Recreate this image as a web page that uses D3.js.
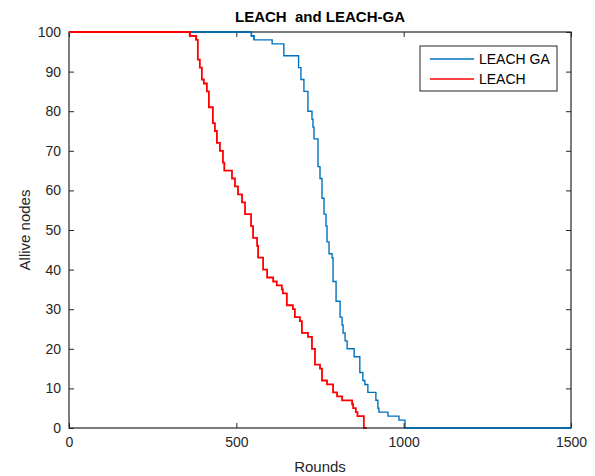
<!DOCTYPE html>
<html><head><meta charset="utf-8">
<script src="https://cdn.jsdelivr.net/npm/d3@7"></script>
<style>body{margin:0;background:#fff;} svg{display:block;font-family:"Liberation Sans",Arial,sans-serif;}</style>
</head><body><svg id="c" width="595" height="476"></svg>
<script>
const title = "LEACH  and LEACH-GA";
const xLabel = "Rounds";
const yLabel = "Allive nodes";
const xTicks = [0, 500, 1000, 1500];
const yTicks = [0,10,20,30,40,50,60,70,80,90,100];
const seriesNames = ["LEACH GA", "LEACH"];
// step points: [round, alive nodes] (value holds until next point)
const leachGA = [[0,100],[545,99],[553,98],[607,97],[642,94],[686,91],[693,88],[702,85],[714,80],[726,78],[729,76],[732,73],[744,66],[750,63],[756,58],[762,54],[768,51],[771,47],[777,44],[786,43],[789,37],[798,32],[810,28],[816,26],[819,24],[825,22],[831,20],[852,18],[869,14],[878,12],[884,11],[893,9],[917,7],[923,5],[926,4],[953,3],[986,2],[1004,0],[1500,0]];
const leach = [[0,100],[361,99],[380,98],[385,93],[391,91],[397,88],[403,87],[412,85],[418,81],[430,77],[436,75],[442,72],[451,70],[460,67],[464,65],[487,63],[496,61],[505,59],[517,57],[526,54],[544,51],[550,48],[562,46],[565,43],[580,40],[592,38],[610,37],[621,36],[636,35],[639,34],[651,31],[669,30],[675,28],[690,27],[696,24],[714,23],[726,20],[735,16],[750,15],[756,12],[771,11],[789,9],[801,8],[816,7],[846,6],[849,5],[857,4],[862,3],[881,0],[890,0]];

const svg = d3.select("#c");
const L=69, R=571, T=32, B=428;
const x = d3.scaleLinear().domain([0,1500]).range([L,R]);
const y = d3.scaleLinear().domain([0,100]).range([B,T]);
const tickCol = "#262626";
const blue = "#0072BD", red = "#FF0000";

const line = d3.line().x(d=>x(d[0])).y(d=>y(d[1])).curve(d3.curveStepAfter);
function draw(data, col, w){ svg.append("path").datum(data).attr("d",line).attr("fill","none").attr("stroke",col).attr("stroke-width",w); }
draw(leachGA, blue, 1.4);
draw(leach, red, 1.8);

// axes
const fmt = d3.format("d");
const ax = d3.axisBottom(x).tickValues(xTicks).tickFormat(fmt).tickSizeInner(-5).tickSizeOuter(0).tickPadding(9);
const ay = d3.axisLeft(y).tickValues(yTicks).tickFormat(fmt).tickSizeInner(-5).tickSizeOuter(0).tickPadding(8);
const axT = d3.axisTop(x).tickValues(xTicks).tickSizeInner(-5).tickSizeOuter(0).tickFormat("");
const ayR = d3.axisRight(y).tickValues(yTicks).tickSizeInner(-5).tickSizeOuter(0).tickFormat("");
function style(sel){sel.selectAll("path").remove();sel.selectAll("line").attr("stroke",tickCol);sel.selectAll("text").attr("fill",tickCol).style("font-size","14px").style("font-family","Liberation Sans, Arial, sans-serif");}
svg.append("g").attr("transform",`translate(0,${B})`).call(ax).call(style);
svg.append("g").attr("transform",`translate(${L},0)`).call(ay).call(style);
svg.append("g").attr("transform",`translate(0,${T})`).call(axT).call(style);
svg.append("g").attr("transform",`translate(${R},0)`).call(ayR).call(style);
svg.append("rect").attr("x",L).attr("y",T).attr("width",R-L).attr("height",B-T).attr("fill","none").attr("stroke",tickCol).attr("stroke-width",1.2);
// series lines lying on the box edges are drawn over it, red above blue
draw(leachGA.filter(d=>d[0]<=553), blue, 1.4);
draw(leachGA.filter(d=>d[0]>=1004), blue, 1.4);
draw(leach.filter(d=>d[0]<=380), red, 1.8);

// labels
svg.append("text").attr("x",(L+R)/2).attr("y",22).attr("text-anchor","middle").style("font-weight","bold").style("font-size","15px").style("white-space","pre").attr("fill","#000").text(title);
svg.append("text").attr("x",(L+R)/2).attr("y",472).attr("text-anchor","middle").style("font-size","15px").attr("fill",tickCol).text(xLabel);
svg.append("text").attr("transform",`translate(30,${(T+B)/2}) rotate(-90)`).attr("text-anchor","middle").style("font-size","15px").attr("fill",tickCol).text(yLabel);

// legend
const lg = svg.append("g");
lg.append("rect").attr("x",420).attr("y",46).attr("width",137).attr("height",45).attr("fill","#fff").attr("stroke",tickCol).attr("stroke-width",1);
const cols = [blue, red];
seriesNames.forEach((n,i)=>{
  const yy = 59 + i*20;
  lg.append("line").attr("x1",430).attr("x2",474).attr("y1",yy).attr("y2",yy).attr("stroke",cols[i]).attr("stroke-width",1.4);
  lg.append("text").attr("x",479).attr("y",yy+5).style("font-size","14px").attr("fill","#000").text(n);
});
</script></body></html>
